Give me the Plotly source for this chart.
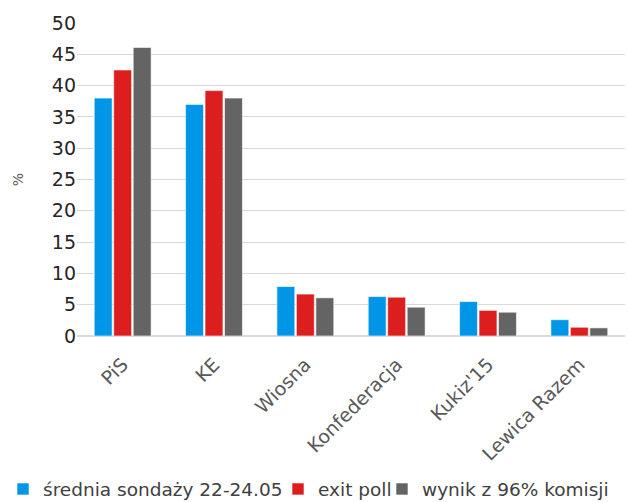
import plotly.graph_objects as go

categories = ["PiS", "KE", "Wiosna", "Konfederacja", "Kukiz'15", "Lewica Razem"]
series_names = ["średnia sondaży 22-24.05", "exit poll", "wynik z 96% komisji"]
avg_polls = [38.0, 37.0, 7.9, 6.3, 5.5, 2.6]
exit_poll = [42.5, 39.2, 6.7, 6.2, 4.1, 1.4]
result_96 = [46.1, 38.0, 6.1, 4.6, 3.8, 1.3]
colors = ["#0096E8", "#DC1E1E", "#646464"]
legend_ids = ["legend", "legend2", "legend3"]
legend_left_px = [3, 278, 382]

fig = go.Figure()
for name, vals, col, lg in zip(series_names, [avg_polls, exit_poll, result_96], colors, legend_ids):
    fig.add_trace(go.Bar(x=categories, y=vals, name=name, legend=lg,
                         marker=dict(color=col, line=dict(color="rgba(255,255,255,0.6)", width=1))))

W, H = 628, 502
legend_common = dict(orientation="h", xref="container", yref="container",
                     xanchor="left", y=0.025, yanchor="middle",
                     font=dict(size=18.5, color="#404040"), itemwidth=30,
                     borderwidth=0, bgcolor="rgba(0,0,0,0)")
layout_legends = {lg: dict(legend_common, x=px / W) for lg, px in zip(legend_ids, legend_left_px)}

fig.update_layout(
    width=W, height=H,
    margin=dict(l=77, r=3, t=23, b=166, autoexpand=False),
    paper_bgcolor="white", plot_bgcolor="white",
    barmode="group", bargap=0.36, bargroupgap=0.08,
    font=dict(family="DejaVu Sans", color="#404040"),
    showlegend=True,
    **layout_legends,
)
fig.update_yaxes(range=[0, 50], dtick=5, showgrid=True, gridcolor="#D9D9D9", gridwidth=1,
                 zeroline=True, zerolinecolor="#D9D9D9", zerolinewidth=2,
                 tickfont=dict(size=19, color="#262626"), ticks="", ticklen=0, automargin=False,
                 title=dict(text="%", font=dict(size=14, color="#595959"), standoff=24))
fig.update_xaxes(tickangle=-45, tickfont=dict(size=19, color="#595959"), showline=False,
                 ticks="outside", ticklen=9, tickcolor="rgba(0,0,0,0)", automargin=False)

fig.write_html("out.html")
